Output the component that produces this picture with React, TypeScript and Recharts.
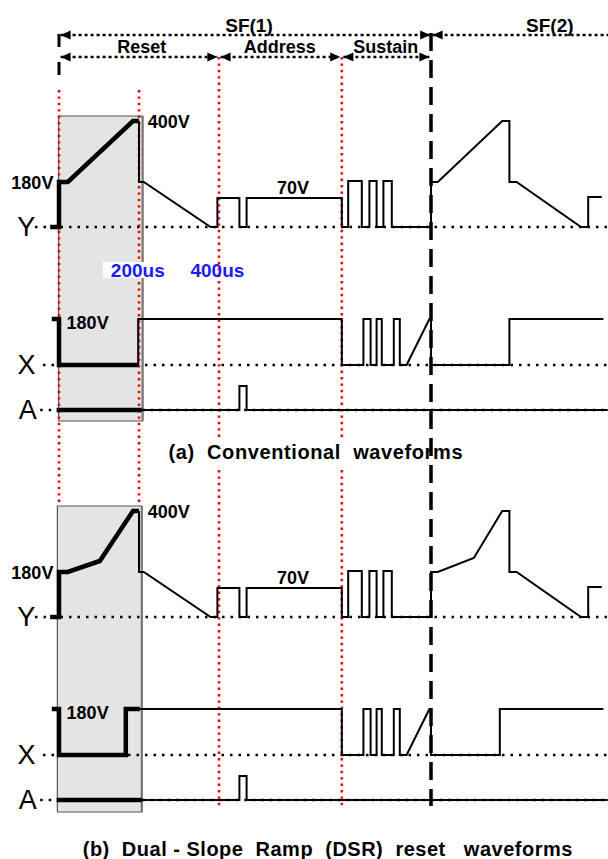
import React from "react";
import {
  ComposedChart,
  Line,
  XAxis,
  YAxis,
  ReferenceLine,
  ReferenceArea,
  ReferenceDot,
} from "recharts";

// time in us (0 = start of reset), level = drawn height above each trace's baseline
const yResetConv = [[-22, 0], [0, 0], [0, 45], [22, 45], [185, 106], [200, 106]];
const yResetDsr = [[-22, 0], [0, 0], [0, 45], [22, 45], [102, 56], [185, 106], [200, 106]];
const yAddrSus = [
  [200, 106], [200, 45], [212, 45], [379, 0], [396, 0], [396, 29], [451, 29], [451, 0],
  [469, 0], [469, 29], [707, 29], [707, 0], [723, 0], [723, 46], [757, 46], [757, 0],
  [776, 0], [776, 46], [794, 46], [794, 0], [811, 0], [811, 46], [832, 46], [832, 0], [930, 0],
];
const ySf2Conv = [[930, 0], [930, 45], [947, 45], [1108, 106], [1126, 106], [1126, 45], [1144, 45], [1305, 0], [1323, 0], [1323, 30], [1357, 30]];
const ySf2Dsr = [[930, 0], [930, 45], [947, 45], [1037, 59], [1108, 106], [1126, 106], [1126, 45], [1144, 45], [1305, 0], [1323, 0], [1323, 30], [1357, 30]];

const xResetConv = [[-18, 46], [0, 46], [0, 0], [198, 0]];
const xResetDsr = [[-18, 46], [0, 46], [0, 0], [167, 0], [167, 46], [202, 46]];
const xLeadConv = [[198, 0], [198, 46], [707, 46]];
const xLeadDsr = [[202, 46], [707, 46]];
const xSustain = [
  [707, 46], [707, 0], [761, 0], [761, 46], [779, 46], [779, 0], [794, 0], [794, 46],
  [807, 46], [807, 0], [837, 0], [837, 46], [852, 46], [852, 0], [869, 0], [926, 46], [930, 46], [930, 0],
];
const xSf2Conv = [[930, 0], [1126, 0], [1126, 46], [1361, 46]];
const xSf2Dsr = [[930, 0], [1102, 0], [1102, 46], [1361, 46]];

const aReset = [[-6, 0], [207, 0]];
const aMain = [[207, 0], [451, 0], [451, 24], [469, 24], [469, 0], [1372, 0]];

const phaseBounds = [0, 400, 707, 930]; // reset, address, sustain, SF(2)
const phaseNames = ["Reset", "Address", "Sustain"];
const subfieldNames = ["SF(1)", "SF(2)"];
const levelLabels = { ramp: "400V", bias: "180V", scan: "70V" };
const timeLabels = ["200us", "400us"];

// layout
const W = 608;
const H = 859;
const T_MIN = -147.5;
const T_MAX = 1372.5;
const FONT = "'Liberation Sans', Arial, sans-serif";
const RED = "#ff0000";
const panels = [
  { key: "a", y: 227, x: 365, a: 410, box: [116, 421], boxT: [-1, 209], caption: "(a)  Conventional  waveforms", capY: 452, capT: 642, capSp: 0.6 },
  { key: "b", y: 617, x: 755, a: 800, box: [506, 812], boxT: [-4, 207], caption: "(b)  Dual - Slope  Ramp  (DSR)  reset   waveforms", capY: 849, capT: 672, capSp: 0.5 },
];

const pts = (a: number[][]) => a.map(([t, v]) => ({ t, v }));
const dom = (b: number) => [b - H, b];

const textShape =
  (text: string, size: number, anchor = "middle", weight = 700, color = "#000", spacing = 0) =>
  (p: any) => (
    <text x={p.cx} y={p.cy} textAnchor={anchor} dominantBaseline="central" fontFamily={FONT}
      fontWeight={weight} fontSize={size} fill={color} letterSpacing={spacing} style={{ whiteSpace: "pre" }}>
      {text}
    </text>
  );

const timeShape = (text: string, pad: boolean) => (p: any) => (
  <g>
    {pad && <rect x={p.cx - 35} y={p.cy - 8} width={64} height={16} fill="#fff" />}
    <text x={p.cx} y={p.cy} textAnchor="middle" dominantBaseline="central" fontFamily={FONT}
      fontWeight={700} fontSize={19} fill="#1a1aff">{text}</text>
  </g>
);

const arrowShape = (dir: "l" | "r") => (p: any) => {
  const d = dir === "l" ? 1 : -1;
  return (
    <polygon points={`${p.cx},${p.cy} ${p.cx + d * 10},${p.cy - 4.5} ${p.cx + d * 10},${p.cy + 4.5}`} fill="#000" />
  );
};

const wave = (id: string, data: number[][], width: number) => (
  <Line key={id + data[0][0] + width + data.length} yAxisId={id} data={pts(data)} dataKey="v" type="linear"
    stroke="#000" strokeWidth={width} dot={false} activeDot={false} isAnimationActive={false}
    legendType="none" strokeLinejoin="miter" />
);

const dotted = (id: string, from: number) => (
  <ReferenceLine key={"base" + id} yAxisId={id} segment={[{ x: from, y: 0 }, { x: T_MAX, y: 0 }]}
    stroke="#000" strokeWidth={2.5} strokeDasharray="2.5 6" />
);

const redGuide = (key: string, t: number, y1: number, y2: number) => (
  <ReferenceLine key={key} yAxisId="page" segment={[{ x: t, y: y1 }, { x: t, y: y2 }]}
    stroke={RED} strokeWidth={2.6} strokeDasharray="2.4 4" />
);

const arrow = (y: number, t1: number, t2: number, left = true, right = true) => [
  <ReferenceLine key={`ar${y}${t1}`} yAxisId="page" segment={[{ x: t1, y }, { x: t2, y }]}
    stroke="#000" strokeWidth={2.5} strokeDasharray="3 3" />,
  left && <ReferenceDot key={`al${y}${t1}`} yAxisId="page" x={t1} y={y} r={0} shape={arrowShape("l")} />,
  right && <ReferenceDot key={`arr${y}${t2}`} yAxisId="page" x={t2} y={y} r={0} shape={arrowShape("r")} />,
];

const label = (id: string, key: string, t: number, v: number, shape: any) => (
  <ReferenceDot key={key} yAxisId={id} x={t} y={v} r={0} shape={shape} />
);

export default function App() {
  return (
    <div style={{ position: "absolute", left: 0, top: 0, width: W, height: H, background: "#fff" }}>
      <ComposedChart width={W} height={H} margin={{ top: 0, right: 0, bottom: 0, left: 0 }}>
        <XAxis type="number" dataKey="t" domain={[T_MIN, T_MAX]} allowDataOverflow hide />
        <YAxis yAxisId="page" type="number" domain={[0, H]} reversed allowDataOverflow hide />
        {panels.map((p) => [
          <YAxis key={"y" + p.key} yAxisId={"y" + p.key} type="number" domain={dom(p.y)} allowDataOverflow hide />,
          <YAxis key={"x" + p.key} yAxisId={"x" + p.key} type="number" domain={dom(p.x)} allowDataOverflow hide />,
          <YAxis key={"a" + p.key} yAxisId={"a" + p.key} type="number" domain={dom(p.a)} allowDataOverflow hide />,
        ])}

        {panels.map((p) => [
          <ReferenceArea key={"box" + p.key} yAxisId="page" x1={p.boxT[0]} x2={p.boxT[1]} y1={p.box[0]} y2={p.box[1]}
            fill="#e4e4e4" fillOpacity={1} stroke="#555" strokeWidth={1.2} />,
          <ReferenceLine key={"edge" + p.key} yAxisId="page" segment={[{ x: p.boxT[1], y: p.box[0] }, { x: p.boxT[1], y: p.box[1] }]}
            stroke="#777" strokeWidth={2.2} />,
        ])}

        {/* phase guides */}
        {[0, 200].map((t) => redGuide("rg" + t, t, 90, 505))}
        {[phaseBounds[1], phaseBounds[2]].map((t) => [
          redGuide("rt" + t, t, 57, 437),
          redGuide("rb" + t, t, 470, 806),
        ])}
        <ReferenceLine yAxisId="page" segment={[{ x: 0, y: 34 }, { x: 0, y: 81 }]} stroke="#000" strokeWidth={3} strokeDasharray="13 15" />
        <ReferenceLine yAxisId="page" segment={[{ x: phaseBounds[3], y: 33 }, { x: phaseBounds[3], y: 806 }]}
          stroke="#000" strokeWidth={3.5} strokeDasharray="18 9" />

        {/* header arrows */}
        {arrow(35, 4, phaseBounds[3] - 2)}
        {arrow(35, phaseBounds[3] + 4, T_MAX, true, false)}
        {arrow(57, 4, phaseBounds[1] - 4)}
        {arrow(57, phaseBounds[1] + 4, phaseBounds[2] - 4)}
        {arrow(57, phaseBounds[2] + 4, phaseBounds[3] - 4)}
        {label("page", "sf1", 475, 25, textShape(subfieldNames[0], 19))}
        {label("page", "sf2", 1227, 25, textShape(subfieldNames[1], 19))}
        {label("page", "ph0", 207, 47, textShape(phaseNames[0], 18))}
        {label("page", "ph1", 552, 47, textShape(phaseNames[1], 18))}
        {label("page", "ph2", 817, 47, textShape(phaseNames[2], 18))}

        {/* baselines */}
        {panels.map((p) => [dotted("y" + p.key, -60), dotted("x" + p.key, -40), dotted("a" + p.key, -47)])}

        {/* waveforms */}
        {wave("ya", yResetConv, 4.5)}
        {wave("ya", [...yAddrSus, ...ySf2Conv.slice(1)], 2)}
        {wave("xa", xResetConv, 4.5)}
        {wave("xa", [...xLeadConv, ...xSustain.slice(1), ...xSf2Conv.slice(1)], 2)}
        {wave("aa", aReset, 4.5)}
        {wave("aa", aMain, 2)}
        {wave("yb", yResetDsr, 4.5)}
        {wave("yb", [...yAddrSus, ...ySf2Dsr.slice(1)], 2)}
        {wave("xb", xResetDsr, 4.5)}
        {wave("xb", [...xLeadDsr, ...xSustain.slice(1), ...xSf2Dsr.slice(1)], 2)}
        {wave("ab", aReset, 4.5)}
        {wave("ab", aMain, 2)}

        {/* labels */}
        {panels.map((p) => [
          label("y" + p.key, "Y" + p.key, -82, 0, textShape("Y", 27, "middle", 400)),
          label("x" + p.key, "X" + p.key, -81, 0, textShape("X", 27, "middle", 400)),
          label("a" + p.key, "A" + p.key, -78, 0, textShape("A", 27, "middle", 400)),
          label("y" + p.key, "v400" + p.key, 222, 105, textShape(levelLabels.ramp, 18, "start")),
          label("y" + p.key, "v180" + p.key, -14, 44, textShape(levelLabels.bias, 18, "end")),
          label("y" + p.key, "v70" + p.key, 585, 39, textShape(levelLabels.scan, 18)),
          label("x" + p.key, "x180" + p.key, 19, 42, textShape(levelLabels.bias, 18, "start")),
          label("page", "cap" + p.key, p.capT, p.capY, textShape(p.caption, 20, "middle", 700, "#000", p.capSp)),
        ])}
        {label("ya", "t200", 197, -43, timeShape(timeLabels[0], true))}
        {label("ya", "t400", 396, -43, timeShape(timeLabels[1], false))}
      </ComposedChart>
    </div>
  );
}
